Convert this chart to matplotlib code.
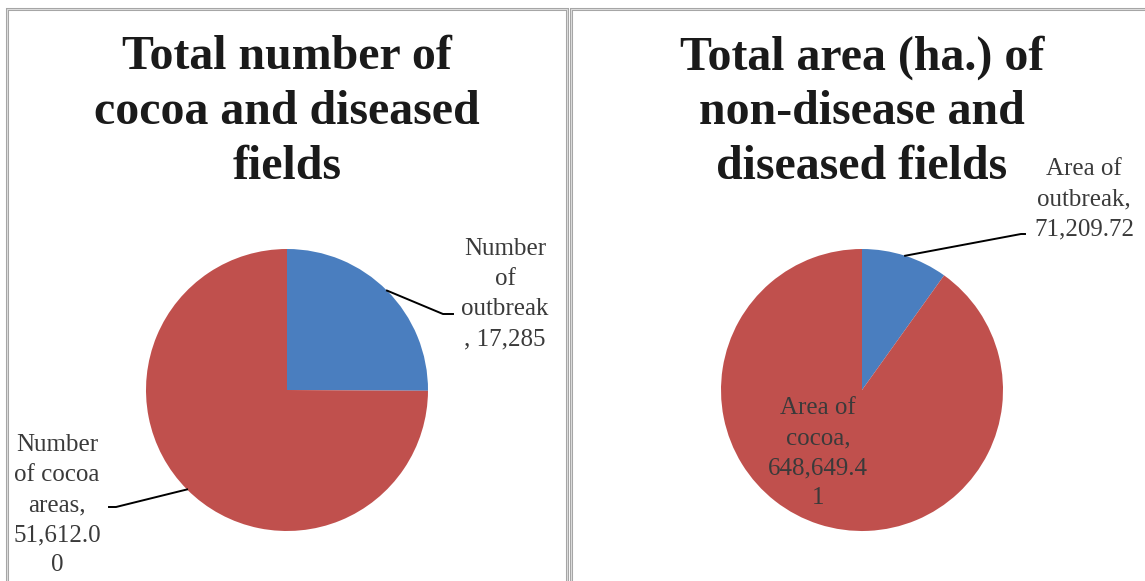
import numpy as np
import matplotlib.pyplot as plt
from matplotlib.patches import Rectangle
from matplotlib.lines import Line2D

# data
left_labels = ['Number\nof\noutbreak\n, 17,285', 'Number\nof cocoa\nareas,\n51,612.0\n0']
left_values = [17285, 51612.00]
right_labels = ['Area of\noutbreak,\n71,209.72', 'Area of\ncocoa,\n648,649.4\n1']
right_values = [71209.72, 648649.41]
colors = ['#4a7ebf', '#c0504d']

W, H = 1145, 581
fig = plt.figure(figsize=(W / 100, H / 100), dpi=100)
plt.rcParams['font.family'] = ['Liberation Serif', 'DejaVu Serif']


def px(x, y):
    # pixel (from top-left) -> figure fraction
    return x / W, 1 - y / H


# panel borders
for x0, x1 in [(7, 567), (571, 1150)]:
    for ec, lw in [('#a6a6a6', 2.2), ('#e6e6e6', 0.6)]:
        fig.add_artist(Rectangle((x0 / W, -0.1), (x1 - x0) / W, 1.1 - 9 / H,
                                 transform=fig.transFigure, fill=False,
                                 edgecolor=ec, linewidth=lw))


def make_pie(cx, cy, r, values):
    ax = fig.add_axes([(cx - r) / W, (H - cy - r) / H, 2 * r / W, 2 * r / H])
    wedges, _ = ax.pie(values, colors=colors, startangle=90, counterclock=False,
                       wedgeprops=dict(linewidth=0))
    ax.set_xlim(-1, 1)
    ax.set_ylim(-1, 1)
    ax.set_aspect('auto')
    ax.axis('off')
    return ax, wedges


ax1, w1 = make_pie(287, 390, 141, left_values)
ax2, w2 = make_pie(862, 390, 141, right_values)

title_kw = dict(ha='center', va='center', fontsize=34.5, fontweight='bold',
                color='#1a1a1a', linespacing=1.31)
fig.text(*px(287, 112), 'Total number of\ncocoa and diseased\nfields', **title_kw)
fig.text(*px(862, 112), 'Total area (ha.) of\nnon-disease and\ndiseased fields', **title_kw)

lab_kw = dict(fontsize=18, color='#3a3a3a', ha='center', va='center', linespacing=1.47)


def leader(ax, wedge, elbow, end):
    # line from the middle of the wedge's outer edge to the label
    th = np.deg2rad((wedge.theta1 + wedge.theta2) / 2)
    x0, y0 = fig.transFigure.inverted().transform(ax.transData.transform((np.cos(th), np.sin(th))))
    ex, ey = px(*elbow)
    fx, fy = px(*end)
    fig.add_artist(Line2D([x0, ex, fx], [y0, ey, fy], transform=fig.transFigure,
                          color='black', lw=1.4))


# left pie labels
fig.text(*px(505, 294), left_labels[0], **lab_kw)
leader(ax1, w1[0], (443, 314), (453, 314))
fig.text(*px(57, 505), left_labels[1], **lab_kw)
leader(ax1, w1[1], (116, 507), (109, 507))

# right pie labels
fig.text(*px(1084, 199), right_labels[0], **lab_kw)
leader(ax2, w2[0], (1021, 234), (1025, 234))
fig.text(*px(818, 453), right_labels[1], **lab_kw)

fig.savefig('out.png', dpi=100, facecolor='white')
